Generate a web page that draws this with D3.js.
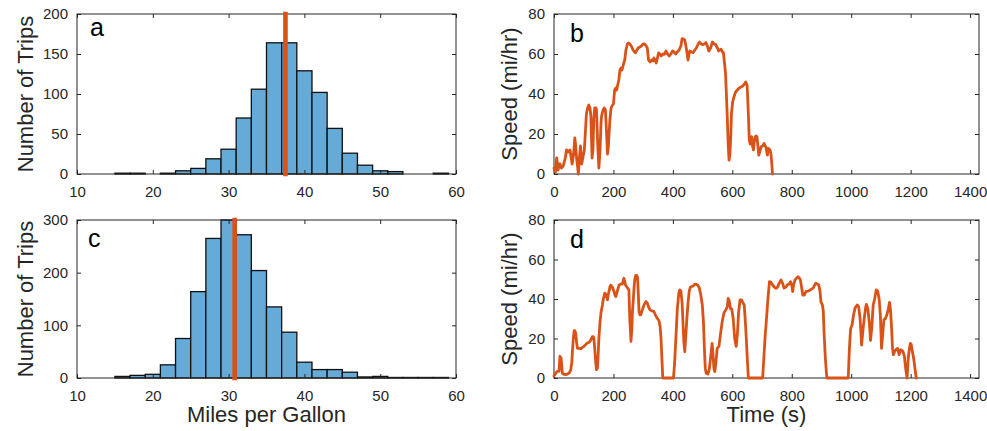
<!DOCTYPE html>
<html>
<head>
<meta charset="utf-8">
<script src="https://cdn.jsdelivr.net/npm/d3@7"></script>
<style>
  body { margin: 0; background: #fff; }
  svg { display: block; font-family: "Liberation Sans", Arial, Helvetica, sans-serif; }
</style>
</head>
<body>
<div id="chart"></div>
<script>
// histogram bins (edges, width 2 mpg)
var binEdges = [15, 17, 19, 21, 23, 25, 27, 29, 31, 33, 35, 37, 39, 41, 43, 45, 47, 49, 51, 53, 55, 57, 59];
var countsA = [1, 1, 0, 1, 4, 7, 19, 31, 70, 106, 164, 164, 129, 102, 57, 26, 11, 4, 3, 0, 0, 1];
var countsC = [3, 5, 7, 25, 75, 164, 265, 302, 272, 204, 135, 87, 30, 16, 16, 11, 2, 3, 1, 1, 1, 1];
var meanA = 37.5;
var meanC = 30.8;

// trip speed traces
var timeB = [0, 5, 9, 14, 17, 20, 25, 31, 38, 42, 48, 54, 58, 61, 66, 70, 73, 76, 80, 82, 86, 89, 93, 97, 102, 106, 109, 113, 117, 121, 124, 128, 131, 134, 137, 141, 143, 147, 151, 155, 158, 160, 165, 169, 173, 177, 180, 183, 188, 192, 195, 200, 204, 208, 211, 215, 218, 222, 226, 229, 234, 238, 242, 247, 251, 255, 260, 266, 271, 274, 279, 283, 289, 294, 300, 305, 310, 314, 316, 318, 323, 329, 333, 336, 340, 344, 348, 352, 356, 361, 366, 371, 377, 382, 388, 393, 399, 404, 410, 415, 421, 427, 431, 436, 440, 445, 448, 451, 454, 457, 463, 468, 474, 479, 485, 490, 495, 500, 506, 511, 516, 521, 527, 533, 539, 544, 550, 554, 558, 562, 567, 570, 574, 577, 580, 583, 586, 589, 592, 595, 597, 601, 606, 611, 617, 623, 629, 635, 641, 645, 648, 650, 654, 657, 660, 662, 665, 668, 671, 674, 677, 680, 683, 686, 689, 694, 697, 702, 707, 710, 713, 716, 718, 721, 727, 730, 733, 735];
var speedB = [3, 1, 8, 2, 5, 5, 3, 4, 8, 12, 11, 12, 8, 5, 10, 18, 14, 8, 3, 0, 9, 14, 5, 8, 12, 22, 30, 33, 34.5, 33, 29, 8, 12, 28, 33, 33, 32, 15, 3, 12, 25, 29, 32, 33, 32, 20, 10, 14, 27, 33, 34, 35, 42, 43, 42, 45, 47, 52, 53, 52, 55, 57, 62, 65, 65.5, 65, 64, 62, 61, 60.6, 62, 63, 63.5, 64, 65, 65, 64, 63, 60, 57, 56, 57, 56.5, 58, 57, 55.5, 58, 60.6, 60, 59, 60, 59.8, 61.5, 60, 59, 60, 61.5, 61, 60, 61, 62, 64, 67.7, 67.5, 67, 63, 60, 57, 60, 61.5, 61, 60.7, 62, 63, 65, 66, 65, 64.7, 65, 65.7, 64, 61.5, 63, 66, 65, 64.7, 63, 61.5, 62, 62.4, 61, 60.7, 55, 50.6, 40, 28.7, 15, 6.9, 10, 20, 30, 36, 38.8, 41, 42, 43, 43.5, 44, 45, 46, 45, 44, 30, 17, 15, 16, 18.7, 14, 12, 16, 18.7, 19, 18.7, 14, 9.4, 12, 13.6, 14, 15.3, 14, 13.6, 11, 9.4, 12.8, 12, 10, 5, 0];

var timeD = [
  0, 6, 11, 17, 20, 24, 28, 32, 39, 45,
  51, 56, 60, 62, 65, 68, 70, 73, 76, 79,
  85, 90, 96, 101, 107, 112, 117, 121, 126, 129,
  132, 134, 137, 140, 143, 146, 148, 151, 155, 158,
  163, 166, 169, 171, 174, 177, 180, 182, 185, 188,
  191, 196, 202, 205, 208, 213, 219, 224, 230, 235,
  238, 241, 245, 248, 252, 255, 259, 262, 264, 267,
  270, 272, 275, 278, 281, 283, 286, 289, 292, 297,
  303, 309, 314, 318, 323, 329, 336, 341, 347, 351,
  354, 357, 360, 363, 366,
  402, 406, 410, 415, 420, 423, 427, 431, 434, 437,
  440, 443, 447, 451, 455, 459, 463, 468, 473, 478,
  484, 489, 494, 499, 503, 506, 509, 512, 518, 523,
  528, 532, 535, 538, 541, 545, 549, 555, 560, 566,
  572, 578, 583, 586, 590, 594, 598, 603, 608, 613,
  617, 621, 626, 631, 636, 640, 644, 647, 651, 654,
  702, 706, 710, 715, 720, 725, 730, 736, 741, 747,
  752, 758, 764, 769, 774, 780, 785, 791, 796, 800,
  803, 806, 811, 816, 821, 826, 829, 833, 837, 842,
  848, 855, 862, 866, 872, 877, 881, 887, 891, 895,
  898, 903, 906, 909, 913, 918,
  990, 994, 998, 1003, 1008, 1013, 1020, 1025, 1030, 1035,
  1040, 1044, 1048, 1051, 1056, 1061, 1065, 1069, 1074, 1079,
  1084, 1089, 1094, 1098, 1102, 1106, 1110, 1115, 1120, 1125,
  1129, 1132, 1136, 1139, 1142, 1145, 1150, 1156, 1158, 1161,
  1164, 1167, 1170, 1174, 1177, 1179, 1183, 1188, 1192, 1195,
  1199, 1202, 1205, 1208, 1212, 1216, 1219
];
var speedD = [
  1, 2.5, 3.4, 3.4, 11, 10, 2.5, 2, 1.7, 2,
  2.5, 4, 8, 13.5, 20, 24, 24, 22.7, 18, 15,
  15, 14.8, 15.5, 16, 17, 17.7, 18, 18.5, 20, 21,
  21, 20.2, 15, 8.4, 4.2, 5, 10, 20, 28.6, 33,
  37, 40, 42, 43, 42.4, 41, 39.6, 42, 43.8, 46,
  47, 46, 43.8, 42, 41.2, 44, 47, 47.5, 47.5, 50.5,
  49, 47, 46, 45.5, 44.6, 30, 18.5, 25, 33.7, 40,
  47, 50, 52, 52, 51, 45, 33.7, 32, 32, 34.5,
  37, 38.7, 37.9, 36, 34.5, 34, 33.7, 32, 30.3, 29.5,
  28.6, 26, 20.2, 10, 0,
  0, 8, 20, 35, 43, 44.6, 44, 38, 28, 18,
  13.3, 20, 30, 38, 44, 46, 46.3, 46.6, 47.4, 47.5,
  47, 45.5, 42, 37, 28, 15, 5, 2.4, 2, 5,
  12, 17.5, 12, 5, 3.2, 8, 15, 16, 22, 28.6,
  33, 34.5, 36, 40.3, 38.7, 35, 35, 30, 20, 16,
  22, 33, 39.5, 39.6, 38, 37, 28, 20, 8, 0,
  0, 10, 20.2, 30, 40.4, 48.8, 48.5, 47, 46, 45.4,
  46, 48, 49.6, 48, 45.5, 46, 47.2, 47.5, 48.8, 47,
  43.8, 47, 49.7, 50.5, 51.3, 50.5, 49.7, 46, 42, 42,
  43.8, 44, 44.6, 45, 45.5, 47, 48, 47.5, 47, 44,
  38.7, 37, 34, 21.9, 10, 0,
  0, 15, 25, 27, 32, 35.4, 37, 36, 30, 16.7,
  25, 30.3, 35, 37.3, 35, 28, 19, 25, 37, 40,
  44.6, 44, 40, 32, 15, 22, 29.5, 30, 32, 35,
  38.3, 35, 25, 15, 11.8, 13, 14.3, 15, 14, 11.8,
  13, 14.3, 14, 13.5, 12, 11, 5, 0, 10, 14,
  17.5, 17, 14, 11.8, 8, 3, 0
];

var histTicksX = [10, 20, 30, 40, 50, 60];
var ticksA = [0, 50, 100, 150, 200];
var ticksC = [0, 100, 200, 300];
var timeTicks = [0, 200, 400, 600, 800, 1000, 1200, 1400];
var speedTicks = [0, 20, 40, 60, 80];

var W = 987, H = 431;
var axisColor = "#262626";
var barColor = "#66AAD7";
var lineColor = "#D95319";

var svg = d3.select("#chart").append("svg")
  .attr("width", W)
  .attr("height", H);

// draws box, inside ticks on all four sides, and tick labels
function drawAxes(g, x, y, w, h, xticks, yticks) {
  var tick = 4;
  var fmt = d3.format("d");
  g.append("g")
    .attr("transform", "translate(0," + h + ")")
    .call(d3.axisBottom(x).tickValues(xticks).tickFormat(fmt).tickSizeInner(-tick).tickSizeOuter(0).tickPadding(12));
  g.append("g")
    .call(d3.axisTop(x).tickValues(xticks).tickSizeInner(-tick).tickSizeOuter(0).tickFormat(""));
  g.append("g")
    .call(d3.axisLeft(y).tickValues(yticks).tickFormat(fmt).tickSizeInner(-tick).tickSizeOuter(0).tickPadding(9));
  g.append("g")
    .attr("transform", "translate(" + w + ",0)")
    .call(d3.axisRight(y).tickValues(yticks).tickSizeInner(-tick).tickSizeOuter(0).tickFormat(""));
  g.selectAll(".domain").remove();
  g.selectAll(".tick line").attr("stroke", axisColor).attr("stroke-width", 1);
  g.selectAll(".tick text")
    .attr("fill", axisColor)
    .style("font-size", "15px")
    .style("font-family", "'Liberation Sans', Arial, Helvetica, sans-serif");
  g.append("rect")
    .attr("x", 0).attr("y", 0)
    .attr("width", w).attr("height", h)
    .attr("fill", "none")
    .attr("stroke", axisColor)
    .attr("stroke-width", 1);
}

function histPanel(left, top, w, h, counts, ymax, yticks, mean, letter, lx, ly) {
  var g = svg.append("g").attr("transform", "translate(" + left + "," + top + ")");
  var x = d3.scaleLinear().domain([10, 60]).range([0, w]);
  var y = d3.scaleLinear().domain([0, ymax]).range([h, 0]);

  var bins = counts.map(function(c, i) {
    return { x0: binEdges[i], x1: binEdges[i + 1], n: c };
  });

  g.selectAll("rect.bar")
    .data(bins)
    .enter()
    .append("rect")
    .attr("class", "bar")
    .attr("x", function(d) { return x(d.x0); })
    .attr("y", function(d) { return y(Math.min(d.n, ymax)); })
    .attr("width", function(d) { return x(d.x1) - x(d.x0); })
    .attr("height", function(d) { return h - y(Math.min(d.n, ymax)); })
    .attr("fill", barColor)
    .attr("stroke", "#111")
    .attr("stroke-width", 1.3);

  drawAxes(g, x, y, w, h, histTicksX, yticks);

  // mean line
  g.append("line")
    .attr("x1", x(mean)).attr("x2", x(mean))
    .attr("y1", y(0)).attr("y2", y(ymax))
    .attr("stroke", lineColor)
    .attr("stroke-width", 4.6)
    .attr("stroke-linecap", "square");

  g.append("text")
    .attr("x", lx).attr("y", ly)
    .style("font-size", "25px")
    .attr("fill", "#000")
    .text(letter);

  g.append("text")
    .attr("transform", "translate(-44," + (h / 2) + ") rotate(-90)")
    .attr("text-anchor", "middle")
    .style("font-size", "22px")
    .attr("fill", axisColor)
    .text("Number of Trips");
  return g;
}

function speedPanel(left, top, w, h, times, speeds, letter, lx, ly) {
  var g = svg.append("g").attr("transform", "translate(" + left + "," + top + ")");
  var x = d3.scaleLinear().domain([0, 1430]).range([0, w]);
  var y = d3.scaleLinear().domain([0, 80]).range([h, 0]);

  drawAxes(g, x, y, w, h, timeTicks, speedTicks);

  var pts = times.map(function(t, i) { return [t, speeds[i]]; });
  var line = d3.line()
    .x(function(d) { return x(d[0]); })
    .y(function(d) { return y(d[1]); })
    .curve(d3.curveLinear);

  g.append("path")
    .datum(pts)
    .attr("d", line)
    .attr("fill", "none")
    .attr("stroke", lineColor)
    .attr("stroke-width", 2.8)
    .attr("stroke-linejoin", "round")
    .attr("stroke-linecap", "round");

  g.append("text")
    .attr("x", lx).attr("y", ly)
    .style("font-size", "25px")
    .attr("fill", "#000")
    .text(letter);

  g.append("text")
    .attr("transform", "translate(-37," + (h / 2) + ") rotate(-90)")
    .attr("text-anchor", "middle")
    .style("font-size", "22px")
    .attr("fill", axisColor)
    .text("Speed (mi/hr)");
  return g;
}

histPanel(77, 14, 379, 160, countsA, 200, ticksA, meanA, "a", 13, 22);
var gc = histPanel(77, 220, 379, 158, countsC, 300, ticksC, meanC, "c", 11, 27);
speedPanel(554, 14, 425, 160, timeB, speedB, "b", 16, 28);
var gd = speedPanel(554, 220, 425, 158, timeD, speedD, "d", 16, 28);

gc.append("text")
  .attr("x", 379 / 2).attr("y", 202)
  .attr("text-anchor", "middle")
  .style("font-size", "22px")
  .attr("fill", axisColor)
  .text("Miles per Gallon");

gd.append("text")
  .attr("x", 425 / 2).attr("y", 202)
  .attr("text-anchor", "middle")
  .style("font-size", "22px")
  .attr("fill", axisColor)
  .text("Time (s)");
</script>
</body>
</html>
